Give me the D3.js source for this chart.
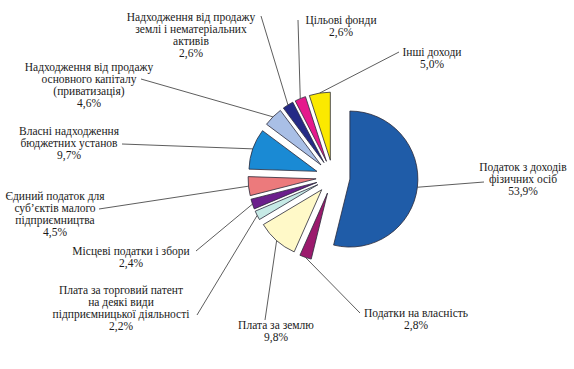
<!DOCTYPE html>
<html><head><meta charset="utf-8">
<script src="https://cdn.jsdelivr.net/npm/d3@7"></script>
</head>
<body style="margin:0">
<svg id="chart" width="574" height="369" style="font-family:'Liberation Serif',serif"></svg>
<script>
const categories = [
  "Податок з доходів\nфізичних осіб",
  "Податки на власність",
  "Плата за землю",
  "Плата за торговий патент\nна деякі види\nпідприємницької діяльності",
  "Місцеві податки і збори",
  "Єдиний податок для\nсуб’єктів малого\nпідприємництва",
  "Власні надходження\nбюджетних установ",
  "Надходження від продажу\nосновного капіталу\n(приватизація)",
  "Надходження від продажу\nземлі і нематеріальних\nактивів",
  "Цільові фонди",
  "Інші доходи"
];
const values = [53.9, 2.8, 9.8, 2.2, 2.4, 4.5, 9.7, 4.6, 2.6, 2.6, 5.0];
const valueLabels = ["53,9%","2,8%","9,8%","2,2%","2,4%","4,5%","9,7%","4,6%","2,6%","2,6%","5,0%"];
const colors = ["#1f5ca8","#9b1a6d","#fff9c8","#c6eae6","#6b1f8c","#ec7a7c","#1a8ad4","#a9bfe6","#252a86","#e5198c","#fbe900"];

// label layout: text centre x, first baseline y, leader end point
const labelLayout = [
  {cx:523, y:171, ex:484, ey:182},
  {cx:416, y:317, ex:360, ey:313},
  {cx:276, y:329, ex:265, ey:320},
  {cx:121, y:294, ex:197, ey:315},
  {cx:131, y:255, ex:196, ey:251},
  {cx:55,  y:200, ex:99,  ey:209},
  {cx:69,  y:135, ex:122, ey:144},
  {cx:89,  y:71,  ex:141, ey:79},
  {cx:191, y:21,  ex:261, ey:16},
  {cx:341, y:24,  ex:298, ey:20},
  {cx:432, y:56,  ex:399, ey:52}
];

const svg = d3.select("#chart");
const cx = 333, cy = 177, R = 68, explode = 17, lineH = 12;

const pie = d3.pie().sort(null).value(d => d)(values);
const arc = d3.arc().innerRadius(0).outerRadius(R);

const g = svg.append("g").attr("transform", `translate(${cx},${cy})`);

function offset(d){
  const a = (d.startAngle + d.endAngle) / 2;
  return [Math.sin(a) * explode, -Math.cos(a) * explode];
}

g.selectAll("path.slice").data(pie).join("path")
  .attr("class","slice")
  .attr("d", arc)
  .attr("transform", d => { const o = offset(d); return `translate(${o[0]},${o[1]})`; })
  .attr("fill", (d,i) => colors[i])
  .attr("stroke", "#2a2a3a")
  .attr("stroke-width", 0.8);

// leader lines
pie.forEach((d,i) => {
  const a = (d.startAngle + d.endAngle) / 2;
  const o = offset(d);
  const sx = cx + o[0] + Math.sin(a) * R;
  const sy = cy + o[1] - Math.cos(a) * R;
  const L = labelLayout[i];
  svg.append("line")
    .attr("x1", sx).attr("y1", sy).attr("x2", L.ex).attr("y2", L.ey)
    .attr("stroke", "#333").attr("stroke-width", 0.8);
});

// labels
labelLayout.forEach((L,i) => {
  const lines = categories[i].split("\n").concat([valueLabels[i]]);
  const t = svg.append("text")
    .attr("text-anchor","middle")
    .style("font-family","Liberation Serif")
    .style("font-size","11.5px")
    .style("fill","#1a1a1a");
  lines.forEach((s,k) => {
    t.append("tspan").attr("x", L.cx).attr("y", L.y + k*lineH).text(s);
  });
});
</script>
</body></html>
